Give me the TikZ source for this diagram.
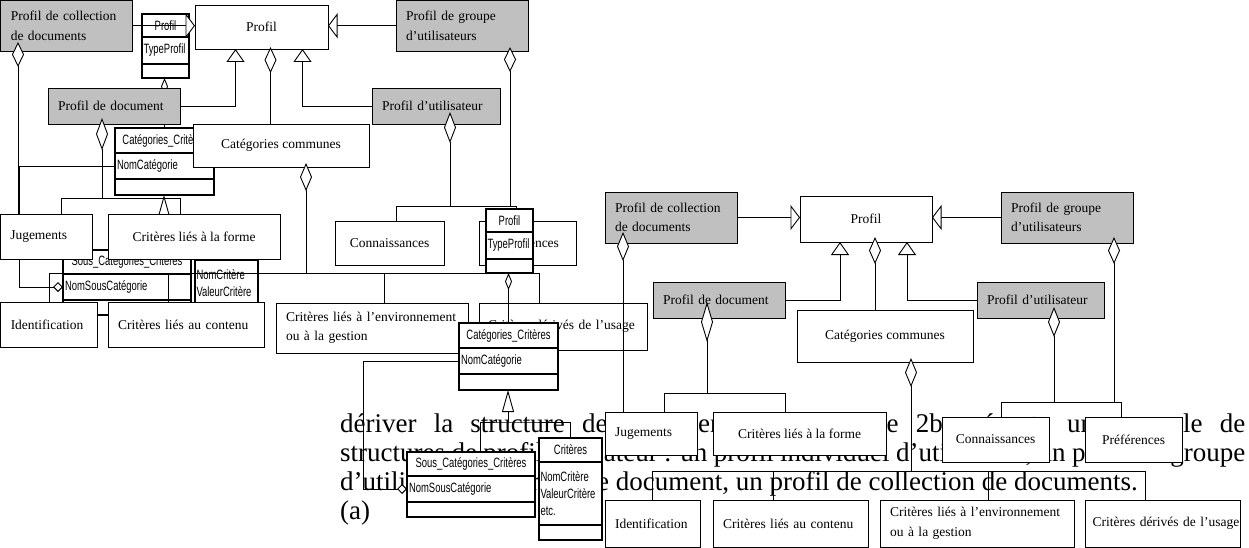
\documentclass[tikz,border=0pt]{standalone}
\usepackage{fontspec}
\setmainfont{Liberation Serif}
\newfontfamily\classefont{Liberation Sans}[FakeStretch=0.7]
\usetikzlibrary{arrows.meta,positioning}
\definecolor{gris}{RGB}{192,192,192}
\newcommand{\etiq}{\fontsize{13.5}{19.5}\selectfont}
\newcommand{\petit}{\classefont\fontsize{13.5}{17}\selectfont}
\newcommand{\texte}{\fontsize{27}{29}\selectfont}
\tikzset{
	boite/.style={draw, fill=white, line width=0.9pt, inner sep=0pt, outer sep=0pt, anchor=north west, font=\etiq, align=center},
	boiteg/.style={boite, align=left, text width=#1},
	grise/.style={boiteg=#1, fill=gris},
	classe/.style={draw, fill=white, line width=1.2pt, inner sep=0pt, outer sep=0pt, anchor=north west, font=\petit},
	attr/.style={classe, align=left, text width=#1},
	para/.style={font=\texte, inner sep=0pt, anchor=base west},
	lien/.style={line width=0.9pt},
	agreg/.style={lien, -{Diamond[fill=white, length=#1, width=12pt]}},
	agreg/.default=28pt,
	agregp/.style={lien, -{Diamond[fill=white, length=17pt, width=7pt]}},
	agregh/.style={lien, -{Diamond[fill=white, length=10pt, width=10pt]}},
	herit/.style={lien, -{Triangle[fill=white, length=13pt, width=18pt]}},
	heritH/.style={lien, -{Triangle[fill=white, length=9.5pt, width=25pt]}},
	heritp/.style={lien, -{Triangle[fill=white, length=22pt, width=12pt]}},
}
% sous-schema des classes : #1 prefixe, #2 decalage, #3 decalage du bas
\newcommand{\sousschema}[3]{%
	\begin{scope}[shift={(#2)}]
		% classe Profil
		\node[classe, minimum width=47pt, minimum height=23pt, align=center] (#1pct) at (486,209) {Profil};
		\node[attr=44pt, minimum width=47pt, minimum height=27pt, below=0pt of #1pct] (#1pca) {TypeProfil};
		\node[classe, minimum width=47pt, minimum height=14pt, below=0pt of #1pca] (#1pco) {};
		% classe Categories_Criteres
		\node[classe, minimum width=99pt, minimum height=25pt, align=center] (#1cct) at (459,323) {Catégories\_Critères};
		\node[attr=95pt, minimum width=99pt, minimum height=26pt, below=0pt of #1cct] (#1cca) {NomCatégorie};
		\node[classe, minimum width=99pt, minimum height=16pt, below=0pt of #1cca] (#1cco) {};
		\begin{scope}[shift={(0,#3)}]
			% classe Sous_Categories_Criteres
			\node[classe, minimum width=128pt, minimum height=24pt, align=center] (#1sct) at (407,452) {Sous\_Catégories\_Critères};
			\node[attr=124pt, minimum width=128pt, minimum height=26pt, below=0pt of #1sct] (#1sca) {NomSousCatégorie};
			\node[classe, minimum width=128pt, minimum height=15pt, below=0pt of #1sca] (#1sco) {};
			% classe Criteres
			\node[classe, minimum width=63pt, minimum height=24pt, align=center] (#1crt) at (539,438) {Critères};
			\node[attr=60pt, minimum width=63pt, minimum height=63pt, below=0pt of #1crt] (#1cra) {NomCritère\\ValeurCritère\\etc.};
			\node[classe, minimum width=63pt, minimum height=15pt, below=0pt of #1cra] (#1cro) {};
			\coordinate (#1bus) at (508,422);
		\end{scope}
		\draw[agregp] (#1cct.north) -- (#1cct.north |- #1pco.south);
		\draw[heritp] (#1bus) -- (#1bus |- #1cco.south);
		\draw[lien] ([xshift=9pt]#1sct.north) |- (#1bus) -| (#1crt.north);
		\draw[agregh] (#1cca.west) -- ++(-96pt,0) |- (#1sca.west);
	\end{scope}}
\begin{document}
\begin{tikzpicture}[x=1pt,y=-1pt]
	\useasboundingbox (0,0) rectangle (1249,548);
	% texte du paragraphe
	\node[para] (ligne1) at (340,432) {\hbox to 905pt{dériver la structure de documents. La figure 2b présente un exemple de}};
	\node[para] (ligne2) at (340,461) {\hbox to 905pt{structures de profil utilisateur : un profil individuel d’utilisateur, un profil de groupe}};
	\node[para] (ligne3) at (340,490) {d’utilisateur, un profil de document, un profil de collection de documents.};
	\node[para] (legende) at (340,519) {(a)};

	% classes, copie du haut
	\sousschema{h}{-344,-195}{-7}

	% schema de gauche
	\node[grise=111pt, minimum width=131.5pt, minimum height=50.5pt] (collL) at (0.5,0.5) {Profil de collection\\de documents};
	\node[boite, minimum width=133pt, minimum height=44pt] (profilL) at (195,5) {Profil};
	\node[grise=112pt, minimum width=132pt, minimum height=50.5pt] (groupeL) at (396,0.5) {Profil de groupe\\d’utilisateurs};
	\node[grise=112pt, minimum width=132pt, minimum height=36pt] (profdocL) at (48,88) {Profil de document};
	\node[grise=108pt, minimum width=128pt, minimum height=36pt] (profutilL) at (372,88) {Profil d’utilisateur};
	\node[boite, minimum width=176pt, minimum height=43pt] (catcomL) at (193,124) {Catégories communes};
	\node[boiteg=72pt, minimum width=91.5pt, minimum height=45pt] (jugL) at (0.5,214) {Jugements};
	\node[boite, minimum width=172pt, minimum height=45pt] (formeL) at (108,214) {Critères liés à la forme};
	\node[boite, minimum width=109pt, minimum height=44pt] (connL) at (335,221) {Connaissances};
	\node[boite, minimum width=97pt, minimum height=44pt] (prefL) at (479,221) {Préférences};
	\node[boiteg=76pt, minimum width=96.5pt, minimum height=45pt] (identL) at (0.5,302) {Identification};
	\node[boiteg=136pt, minimum width=156pt, minimum height=45pt] (contL) at (108,302) {Critères liés au contenu};
	\node[boiteg=172pt, minimum width=192pt, minimum height=50pt] (envL) at (276,303) {Critères liés à l’environnement\\ou à la gestion};
	\node[boiteg=150pt, minimum width=168pt, minimum height=47pt] (derivL) at (479,303) {Critères dérivés de l’usage};

	\draw[heritH] (collL.east) -- (collL.east -| profilL.west);
	\draw[heritH] (groupeL.west) -- (groupeL.west -| profilL.east);
	\coordinate (gDocL) at ([xshift=-26pt]profilL.south);
	\coordinate (gUtilL) at ([xshift=41pt]profilL.south);
	\draw[herit] (profdocL.east) -| (gDocL);
	\draw[herit] (profutilL.west) -| (gUtilL);
	\coordinate (dProfL) at ([shift={(9pt,2pt)}]profilL.south);
	\coordinate (dCollL) at ([shift={(17.5pt,9pt)}]collL.south west);
	\coordinate (dGrpL) at ([shift={(-18pt,4pt)}]groupeL.south east);
	\coordinate (dDocL) at ([shift={(54pt,6pt)}]profdocL.south west);
	\coordinate (dUtilL) at ([shift={(78pt,12pt)}]profutilL.south west);
	\coordinate (dComL) at ([shift={(-63pt,4pt)}]catcomL.south east);
	\draw[agreg=26pt] (dProfL |- catcomL.north) -- (dProfL);
	\coordinate (bJFgL) at (61,198);
	\coordinate (bJFdL) at (180,198);
	\draw[lien] (bJFgL |- jugL.north) -- (bJFgL) -- (bJFdL) -- (bJFdL |- formeL.north);
	\draw[agreg=32pt] (dDocL |- bJFgL) -- (dDocL);
	\draw[agreg=25pt] (dCollL |- jugL.north) -- (dCollL);
	\coordinate (bCPgL) at (396,206);
	\coordinate (bCPdL) at (516,206);
	\draw[lien] (bCPgL |- connL.north) -- (bCPgL) -- (bCPdL) -- (bCPdL |- prefL.north);
	\draw[agreg=31pt] (dUtilL |- bCPgL) -- (dUtilL);
	\draw[agreg=25pt] (dGrpL |- bCPgL) -- (dGrpL);
	\coordinate (bBgL) at (49,273);
	\coordinate (bBdL) at (539,273);
	\coordinate (bB2L) at (168,273);
	\coordinate (bB3L) at (384,273);
	\draw[lien] (bBgL |- identL.north) -- (bBgL) -- (bBdL) -- (bBdL |- derivL.north);
	\draw[lien] (bB2L) -- (bB2L |- contL.north);
	\draw[lien] (bB3L) -- (bB3L |- envL.north);
	\draw[agreg] (dComL |- bBgL) -- (dComL);
	\draw[lien] ([yshift=10pt]identL.east) -- ([yshift=10pt]contL.west);

	% classes, copie du milieu
	\sousschema{m}{0,0}{0}

	% schema de droite
	\node[grise=112pt, minimum width=132pt, minimum height=51pt] (collR) at (605,192) {Profil de collection\\de documents};
	\node[boite, minimum width=132pt, minimum height=46pt] (profilR) at (800,196) {Profil};
	\node[grise=112pt, minimum width=132pt, minimum height=51pt] (groupeR) at (1001,192) {Profil de groupe\\d’utilisateurs};
	\node[grise=112pt, minimum width=132pt, minimum height=36pt] (profdocR) at (653,282) {Profil de document};
	\node[grise=107pt, minimum width=127pt, minimum height=36pt] (profutilR) at (977,282) {Profil d’utilisateur};
	\node[boite, minimum width=176pt, minimum height=52pt] (catcomR) at (797,310) {Catégories communes};
	\node[boiteg=72pt, minimum width=92pt, minimum height=43pt] (jugR) at (605,412) {Jugements};
	\node[boite, minimum width=173pt, minimum height=43pt] (formeR) at (713,412) {Critères liés à la forme};
	\node[boite, minimum width=107pt, minimum height=45pt] (connR) at (942,417) {Connaissances};
	\node[boite, minimum width=97pt, minimum height=45pt] (prefR) at (1085,417) {Préférences};
	\node[boiteg=75pt, minimum width=95pt, minimum height=47pt] (identR) at (605,500) {Identification};
	\node[boiteg=135pt, minimum width=155pt, minimum height=47pt] (contR) at (713,500) {Critères liés au contenu};
	\node[boiteg=174pt, minimum width=194pt, minimum height=47pt] (envR) at (880,500) {Critères liés à l’environnement\\ou à la gestion};
	\node[boiteg=140pt, minimum width=155pt, minimum height=47pt] (derivR) at (1085,500) {\mbox{Critères dérivés de l’usage}};

	\draw[heritH] (collR.east) -- (collR.east -| profilR.west);
	\draw[heritH] (groupeR.west) -- (groupeR.west -| profilR.east);
	\coordinate (gDocR) at ([xshift=-26pt]profilR.south);
	\coordinate (gUtilR) at ([xshift=41pt]profilR.south);
	\draw[herit] (profdocR.east) -| (gDocR);
	\draw[herit] (profutilR.west) -| (gUtilR);
	\coordinate (dProfR) at ([shift={(9pt,5pt)}]profilR.south);
	\coordinate (dCollR) at ([shift={(18pt,11pt)}]collR.south west);
	\coordinate (dGrpR) at ([shift={(-19pt,6pt)}]groupeR.south east);
	\coordinate (dDocR) at ([shift={(54pt,16pt)}]profdocR.south west);
	\coordinate (dUtilR) at ([shift={(77pt,11pt)}]profutilR.south west);
	\coordinate (dComR) at ([shift={(-62pt,4pt)}]catcomR.south east);
	\draw[agreg=27pt] (dProfR |- catcomR.north) -- (dProfR);
	\coordinate (bJFgR) at (664,393);
	\coordinate (bJFdR) at (785,393);
	\draw[lien] (bJFgR |- jugR.north) -- (bJFgR) -- (bJFdR) -- (bJFdR |- formeR.north);
	\draw[agreg=40pt] (dDocR |- bJFgR) -- (dDocR);
	\draw[agreg=29pt] (dCollR |- jugR.north) -- (dCollR);
	\coordinate (bCPgR) at (1001,402);
	\coordinate (bCPdR) at (1121,402);
	\draw[lien] (bCPgR |- connR.north) -- (bCPgR) -- (bCPdR) -- (bCPdR |- prefR.north);
	\draw[agreg=30pt] (dUtilR |- bCPgR) -- (dUtilR);
	\draw[agreg=27pt] (dGrpR |- bCPgR) -- (dGrpR);
	\coordinate (bBgR) at (652,471);
	\coordinate (bBdR) at (1145,471);
	\coordinate (bB2R) at (773,471);
	\coordinate (bB3R) at (988,471);
	\draw[lien] (bBgR |- identR.north) -- (bBgR) -- (bBdR) -- (bBdR |- derivR.north);
	\draw[lien] (bB2R) -- (bB2R |- contR.north);
	\draw[lien] (bB3R) -- (bB3R |- envR.north);
	\draw[agreg=29pt] (dComR |- bBgR) -- (dComR);
\end{tikzpicture}
\end{document}
